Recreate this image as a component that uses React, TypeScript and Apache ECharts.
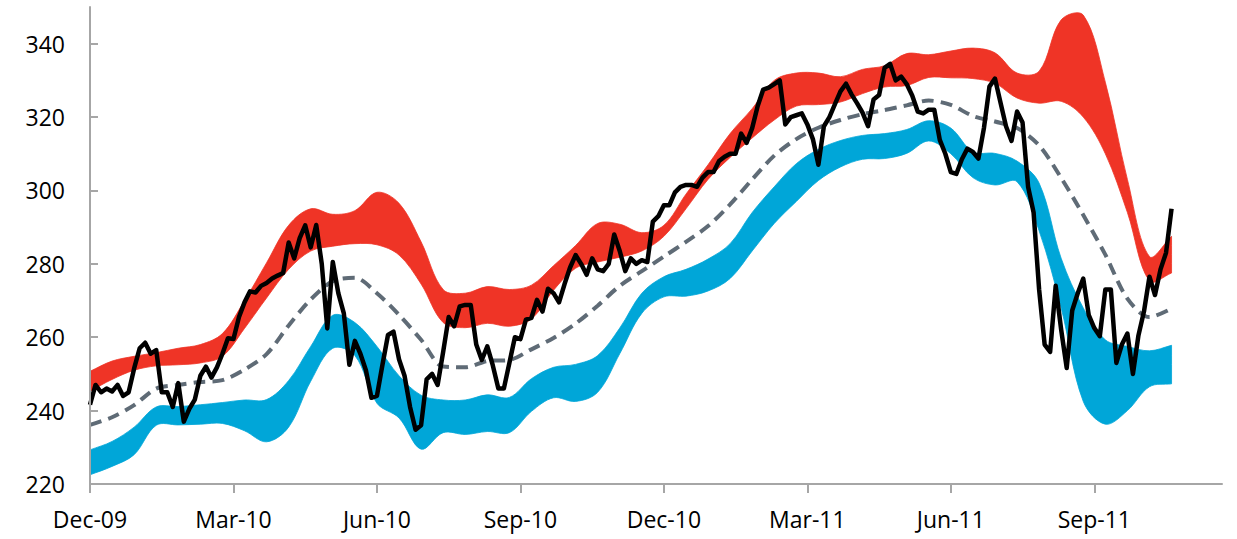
import { useEffect, useRef } from 'react';
import * as echarts from 'echarts';

const quarterLabels = ['Dec-09', 'Mar-10', 'Jun-10', 'Sep-10', 'Dec-10', 'Mar-11', 'Jun-11', 'Sep-11'];
const quarterDays = 91;
const axisMaxDays = 718;
const bandStepDays = 14;
const priceStepDays = 3.5;
const yTicks = [220, 240, 260, 280, 300, 320, 340];

const redUpper = [250.7, 253.5, 254.8, 255.8, 257, 258, 261, 270, 280.3, 290.5, 295, 293.5, 294.5, 299.5, 296.5, 286, 273, 272, 273.8, 273, 274.2, 279.5, 285, 291, 290.8, 288.5, 290.5, 299, 307, 315.5, 322.3, 330, 332, 332, 331, 333, 334, 337.3, 337, 338, 338.8, 337.5, 332, 332.5, 346.5, 347.8, 329.5, 303, 282, 287.5];
const redLower = [245.3, 248.5, 251, 252.2, 252.5, 253, 254.8, 262.4, 270.7, 278.5, 283.5, 284.8, 285.5, 285.2, 282.4, 274.5, 264, 262.6, 263.8, 263, 265, 272.8, 278.8, 280.5, 281.8, 283.5, 287.5, 295, 303, 309, 314.3, 319.2, 323, 323.4, 324.1, 326.4, 328.2, 328.6, 330.8, 330.7, 330.5, 329.2, 325.2, 323.8, 324.3, 320, 310, 294, 275.3, 277.5];
const movingAvg = [236.1, 238.2, 241.5, 246, 247, 247.8, 248.3, 251.2, 255.4, 263.2, 270.3, 275.3, 276.2, 272, 266.1, 259.3, 252, 251.8, 253.5, 253.8, 256.7, 259.8, 263.7, 268.6, 274, 278, 282, 286, 290.3, 296.2, 303, 309.5, 314, 317.1, 319.2, 320.8, 321.9, 323.2, 324.5, 323.3, 320.3, 318.8, 317, 312.3, 303.4, 293.3, 282.5, 270.5, 265.5, 267.8];
const blueUpper = [229.3, 231.6, 235.5, 241, 241.1, 241.6, 242.2, 242.9, 243, 248.2, 257.5, 266, 264, 257.5, 249.5, 244.2, 242.9, 242.9, 244.3, 243.6, 248.7, 251.8, 252.6, 255, 262.5, 272, 276.5, 278.5, 281.3, 285.5, 294, 301, 307.3, 311.2, 313.6, 315, 315.5, 316.6, 319, 317, 310.5, 310.1, 308, 302, 281.5, 268, 259.3, 257.5, 256.3, 257.8];
const blueLower = [222.5, 224.8, 228, 236, 236.1, 236.3, 236.5, 234.5, 231.5, 235.5, 248, 257, 255, 242, 238, 229.5, 234, 233.5, 234.3, 234, 239.8, 243.5, 242.5, 245, 255.5, 266.5, 271, 271.2, 272.6, 276, 283.5, 291, 297, 302.7, 306.4, 308.5, 308.7, 310.1, 313.5, 310, 303.5, 301.5, 302.4, 289, 268, 242.5, 236.3, 240, 246.5, 247.3];
const price = [
  241.6, 247, 245, 246, 245.2, 247, 244, 245, 251.5, 257,
  258.5, 255.5, 256.5, 245, 245, 241, 247.5, 237, 240.5, 243,
  249.5, 252, 249, 251.8, 255.5, 259.7, 259.5, 265.5, 269.5, 272.5,
  272.2, 274, 274.8, 276, 276.8, 277.5, 285.8, 281.5, 287, 290.5,
  284.5, 290.6, 280, 262.4, 280.5, 272, 266.5, 252.5, 259, 255.5,
  251, 243.5, 244, 252.5, 260.6, 261.5, 254, 249.5, 241, 234.8,
  236, 248.5, 250, 247, 256, 265.5, 263, 268.4, 268.8, 268.8,
  258, 253.8, 257.5, 252.3, 246, 246, 253, 260, 259.5, 264.8,
  265.3, 270.2, 267, 273.2, 272, 269.5, 274.5, 279, 282.4, 280,
  277, 281.5, 278.5, 278, 280, 288, 283.5, 278, 281.5, 280,
  281, 280.5, 291.5, 293, 296, 296, 299.5, 301, 301.5, 301.5,
  301, 303.5, 305, 305, 308, 309.2, 310, 310, 315.5, 313,
  317, 323, 327.5, 328, 329, 330, 318, 320, 320.5, 321,
  318, 314, 307, 317.5, 320, 323.5, 327, 329.1, 326.2, 323.8,
  321.2, 317.5, 324.8, 326, 333.4, 334.5, 330, 331, 329, 325.9,
  321.5, 321, 322, 322, 313.8, 310, 305, 304.5, 308.5, 311.4,
  310.5, 308.7, 317, 328.3, 330.5, 324, 317.5, 313.5, 321.5, 318.5,
  301, 294, 273, 258, 256, 274, 262, 251.6, 267.3, 272,
  276, 266, 262.5, 260.3, 273, 273, 253, 258, 261, 250,
  260.5, 267, 276.5, 271.5, 278.5, 283, 295
];

const RED = '#EF3426';
const BLUE = '#00A6D8';
const MA_COLOR = '#5F6B76';
const AXIS_COLOR = '#A6A6A6';
const FONT = 'Open Sans';

function bandSeries(name: string, upper: number[], lower: number[], color: string) {
  return {
    type: 'custom',
    name,
    coordinateSystem: 'cartesian2d',
    silent: true,
    clip: true,
    z: 2,
    encode: { x: 0, y: 1 },
    data: [[0, lower[0]]],
    renderItem: (_params: any, api: any) => {
      const top: number[][] = [];
      const bottom: number[][] = [];
      for (let i = 0; i < upper.length; i++) top.push(api.coord([i * bandStepDays, upper[i]]));
      for (let i = lower.length - 1; i >= 0; i--) bottom.push(api.coord([i * bandStepDays, lower[i]]));
      // repeat the corner points so that the smoothing keeps square ends
      const pts = [
        top[0],
        ...top,
        top[top.length - 1],
        bottom[0],
        ...bottom,
        bottom[bottom.length - 1],
      ];
      return {
        type: 'polygon',
        shape: { points: pts, smooth: 0.35 },
        style: { fill: color, stroke: color, lineWidth: 0.8 },
      };
    },
  };
}

export default function App() {
  const ref = useRef<HTMLDivElement>(null);

  useEffect(() => {
    if (!ref.current) return;
    const chart = echarts.init(ref.current, null, { renderer: 'svg' });

    const withX = (arr: number[], step: number) => arr.map((v, i) => [i * step, v]);
    const quarterTicks = quarterLabels.map((_, i) => i * quarterDays);

    chart.setOption({
      animation: false,
      grid: { left: 90, right: 15, top: 7, bottom: 55, containLabel: false },
      xAxis: {
        type: 'value',
        min: 0,
        max: axisMaxDays,
        interval: quarterDays,
        splitLine: { show: false },
        axisLine: { show: true, lineStyle: { color: AXIS_COLOR, width: 2 } },
        axisTick: {
          show: true,
          inside: false,
          length: 9,
          customValues: quarterTicks,
          lineStyle: { color: AXIS_COLOR, width: 2 },
        },
        axisLabel: {
          customValues: quarterTicks,
          formatter: (v: number) => quarterLabels[Math.round(v / quarterDays)] ?? '',
          margin: 23,
          fontSize: 23,
          fontFamily: FONT,
          color: '#000',
        },
        z: 10,
      },
      yAxis: {
        type: 'value',
        min: 220,
        max: 350,
        interval: 20,
        splitLine: { show: false },
        axisLine: { show: true, lineStyle: { color: AXIS_COLOR, width: 2 } },
        axisTick: {
          show: true,
          inside: true,
          length: 8,
          customValues: yTicks,
          lineStyle: { color: AXIS_COLOR, width: 2 },
        },
        axisLabel: {
          customValues: yTicks,
          margin: 25,
          fontSize: 23,
          fontFamily: FONT,
          color: '#000',
        },
        z: 10,
      },
      series: [
        bandSeries('blueBand', blueUpper, blueLower, BLUE),
        bandSeries('redBand', redUpper, redLower, RED),
        {
          type: 'line',
          name: 'movingAvg',
          showSymbol: false,
          symbol: 'none',
          silent: true,
          data: withX(movingAvg, bandStepDays),
          smooth: 0.3,
          lineStyle: { color: MA_COLOR, width: 4, type: [12, 7], cap: 'butt' },
          z: 3,
        },
        {
          type: 'line',
          name: 'price',
          showSymbol: false,
          symbol: 'none',
          silent: true,
          data: withX(price, priceStepDays),
          lineStyle: { color: '#000', width: 4.5, join: 'round' },
          z: 4,
        },
      ],
    });

    return () => chart.dispose();
  }, []);

  return (
    <div
      ref={ref}
      style={{ position: 'absolute', left: 0, top: 0, width: 1237, height: 539, background: '#fff' }}
    />
  );
}
